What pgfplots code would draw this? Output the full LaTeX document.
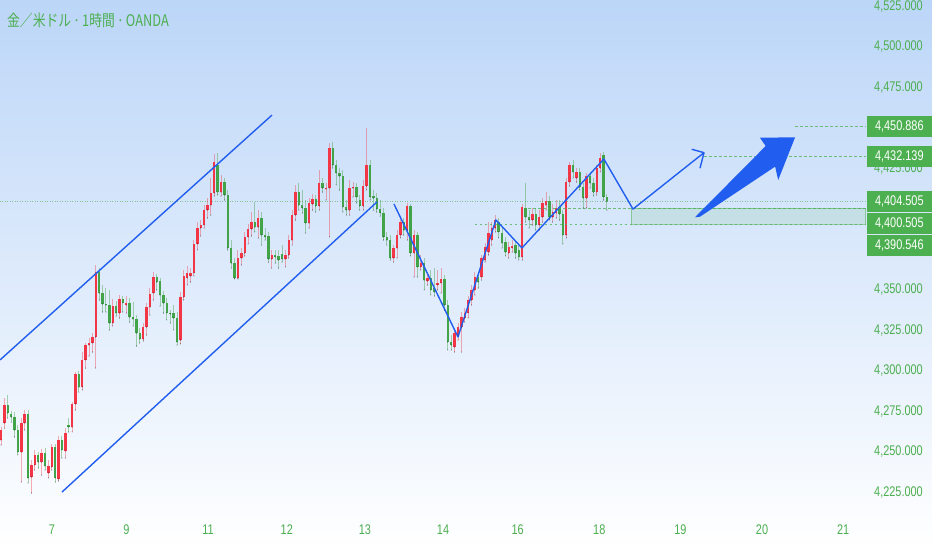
\documentclass[border=0pt]{standalone}
\usepackage{fontspec}
\setmainfont{Liberation Sans}[FakeStretch=0.78]
\newfontfamily\cjkfont{Noto Sans CJK JP}[FakeStretch=0.8]
\usepackage{pgfplots}
\usepackage{pgfplotstable}
\pgfplotsset{compat=1.18}
\definecolor{tvgreen}{RGB}{76,175,80}
\definecolor{upred}{RGB}{242,54,69}
\definecolor{dngreen}{RGB}{67,163,72}
\definecolor{tvblue}{RGB}{33,94,240}
\definecolor{bgtop}{RGB}{188,214,248}

\pgfplotstableread{
n o h l c
0 4257.3 4265.3 4254.2 4263.5
1 4267.8 4283.2 4264.7 4278.9
6 4249.9 4270.9 4231.4 4267.8
7 4267.8 4275.8 4263.5 4273.4
9 4234.5 4245.0 4224.6 4241.9
10 4241.9 4251.2 4238.8 4248.1
12 4243.7 4251.8 4235.7 4249.3
14 4237.0 4245.0 4233.9 4241.3
15 4240.7 4254.9 4238.8 4253.0
17 4233.3 4259.8 4232.0 4257.3
19 4250.5 4264.7 4246.2 4261.6
21 4265.3 4280.8 4262.3 4279.5
22 4279.5 4299.3 4275.8 4298.0
24 4290.0 4311.6 4288.2 4306.7
25 4306.7 4317.2 4301.7 4315.9
26 4315.9 4320.3 4309.2 4317.2
27 4317.2 4323.3 4311.6 4320.9
28 4320.9 4365.3 4301.7 4361.0
33 4329.5 4344.3 4327.7 4340.0
35 4335.7 4346.8 4332.6 4344.3
37 4340.6 4346.2 4335.7 4341.9
42 4319.6 4329.5 4318.4 4327.0
43 4327.0 4341.9 4322.1 4339.4
44 4339.4 4351.1 4334.4 4347.4
45 4348.0 4361.0 4343.7 4357.9
53 4319.0 4348.6 4316.6 4345.5
54 4345.5 4362.2 4343.7 4358.5
55 4357.3 4364.7 4353.0 4360.4
56 4358.5 4363.4 4354.8 4360.4
57 4360.4 4380.7 4358.5 4378.3
58 4378.3 4391.8 4374.6 4388.1
59 4388.1 4393.1 4383.2 4390.0
60 4390.0 4402.3 4388.1 4399.2
61 4399.2 4406.6 4394.3 4402.3
62 4402.3 4419.0 4396.1 4409.7
63 4409.7 4433.8 4407.9 4428.8
65 4410.3 4420.8 4407.9 4416.5
70 4357.3 4374.6 4356.7 4369.6
71 4369.6 4375.8 4365.3 4372.7
72 4372.7 4385.7 4370.9 4382.6
73 4382.6 4390.6 4378.3 4387.5
74 4387.5 4398.0 4383.2 4391.8
76 4388.7 4399.2 4382.0 4394.3
80 4369.0 4374.6 4363.4 4371.5
84 4369.0 4374.6 4364.1 4371.5
85 4371.5 4383.8 4369.6 4380.7
86 4380.7 4399.2 4377.6 4396.1
87 4396.1 4414.7 4393.1 4410.3
91 4391.2 4406.6 4388.1 4403.6
92 4402.9 4409.1 4399.2 4406.0
94 4401.7 4423.9 4399.2 4415.9
96 4412.2 4415.9 4405.4 4412.8
97 4412.8 4440.6 4382.6 4437.5
103 4399.2 4417.7 4396.1 4412.8
104 4412.8 4416.5 4407.3 4413.4
107 4401.7 4417.7 4399.2 4414.0
108 4414.0 4449.8 4411.6 4427.0
116 4369.6 4377.6 4367.1 4375.8
117 4375.8 4386.9 4369.6 4383.8
118 4383.8 4395.5 4382.0 4391.8
120 4386.9 4403.6 4380.7 4401.7
122 4372.7 4386.9 4357.9 4383.8
124 4364.1 4371.5 4362.2 4366.5
126 4355.4 4361.0 4353.0 4357.3
129 4353.0 4362.2 4349.9 4354.2
130 4354.2 4363.4 4348.0 4356.7
134 4314.7 4325.2 4311.6 4323.3
135 4322.1 4329.5 4319.0 4327.0
136 4327.0 4336.3 4311.6 4333.2
137 4332.6 4338.8 4330.1 4335.7
138 4335.7 4346.2 4332.6 4343.7
139 4343.7 4353.0 4340.6 4349.9
140 4349.9 4361.0 4346.8 4357.9
142 4357.9 4371.5 4356.0 4369.6
143 4368.4 4378.9 4367.1 4376.4
144 4373.3 4391.8 4371.5 4385.0
145 4380.7 4391.8 4377.6 4388.1
146 4388.1 4396.1 4385.7 4393.1
150 4372.7 4379.5 4369.6 4376.4
151 4375.8 4380.7 4373.3 4377.0
154 4370.2 4402.9 4368.4 4401.1
157 4393.1 4400.5 4390.0 4396.8
159 4390.0 4399.2 4386.9 4394.9
160 4394.9 4406.6 4391.8 4403.6
161 4402.3 4410.3 4399.2 4404.8
163 4394.9 4402.9 4391.8 4398.0
164 4397.4 4405.4 4394.3 4400.5
167 4383.8 4419.0 4382.0 4416.5
168 4416.5 4428.8 4414.0 4427.0
170 4419.0 4425.1 4416.5 4422.7
173 4406.6 4422.1 4400.5 4420.2
176 4410.3 4427.0 4408.5 4425.1
177 4425.1 4434.4 4422.7 4431.3
}\upcandles

\pgfplotstableread{
n o h l c
2 4278.9 4285.1 4270.9 4274.0
3 4273.4 4275.2 4268.4 4271.5
4 4271.5 4274.6 4259.2 4263.5
5 4263.5 4266.6 4248.1 4249.9
8 4273.4 4275.8 4230.8 4233.9
11 4248.1 4249.9 4240.0 4243.7
13 4249.3 4252.4 4238.8 4241.3
16 4253.0 4254.9 4231.4 4233.9
18 4257.3 4259.8 4246.2 4251.2
20 4266.6 4270.9 4262.3 4265.3
23 4298.0 4299.9 4286.9 4290.0
29 4361.0 4363.4 4343.7 4348.0
30 4348.0 4353.0 4336.3 4341.2
31 4341.2 4351.1 4336.3 4340.6
32 4340.6 4349.9 4325.2 4329.5
34 4340.0 4343.1 4333.8 4335.7
36 4344.3 4346.2 4336.3 4341.9
38 4341.9 4344.9 4330.1 4333.2
39 4333.2 4342.5 4327.7 4332.0
40 4332.0 4334.4 4315.3 4323.3
41 4323.3 4326.4 4317.2 4319.6
46 4357.9 4359.7 4349.9 4354.8
47 4355.4 4357.3 4340.0 4346.8
48 4346.8 4349.3 4335.7 4341.9
49 4341.9 4344.9 4331.4 4335.7
50 4335.7 4337.5 4329.5 4335.1
51 4335.7 4340.6 4325.2 4332.6
52 4332.6 4336.3 4315.9 4317.8
64 4427.0 4434.4 4408.5 4410.3
66 4416.5 4419.0 4405.4 4408.5
67 4408.5 4411.6 4374.6 4375.8
68 4375.8 4380.7 4363.4 4366.5
69 4366.5 4369.6 4356.7 4357.3
75 4391.8 4404.2 4385.7 4388.7
77 4394.3 4398.0 4377.6 4383.8
78 4383.8 4388.1 4380.7 4382.6
79 4383.2 4385.7 4367.1 4369.0
81 4371.5 4374.6 4366.5 4370.2
82 4370.9 4374.6 4363.4 4368.4
83 4372.1 4377.6 4367.1 4369.0
88 4410.3 4415.9 4399.2 4402.3
89 4402.3 4411.6 4397.4 4400.5
90 4400.5 4405.4 4385.0 4391.2
93 4406.0 4408.5 4398.0 4401.7
95 4415.9 4419.0 4410.3 4412.8
98 4437.5 4441.2 4425.1 4427.0
99 4427.0 4430.1 4414.7 4422.1
100 4422.1 4425.1 4411.6 4420.2
101 4420.2 4423.9 4398.0 4401.1
102 4401.1 4405.4 4396.1 4399.2
105 4413.4 4415.9 4403.6 4407.3
106 4405.4 4408.5 4399.2 4401.7
109 4427.0 4430.1 4405.4 4407.3
110 4407.9 4411.6 4399.2 4406.6
111 4406.6 4409.7 4398.0 4399.8
112 4399.8 4405.4 4395.5 4397.4
113 4397.4 4400.5 4380.7 4382.6
114 4382.6 4385.7 4377.6 4380.7
115 4380.7 4383.8 4368.4 4369.6
119 4391.8 4394.3 4383.8 4386.9
121 4401.7 4402.9 4370.9 4372.7
123 4383.8 4385.7 4357.9 4364.1
125 4366.5 4369.6 4349.9 4356.0
127 4357.3 4362.2 4346.8 4349.9
128 4351.1 4363.4 4346.2 4348.6
131 4356.7 4359.1 4337.5 4340.6
132 4340.6 4343.7 4312.9 4317.8
133 4317.8 4322.1 4312.9 4315.9
141 4357.9 4361.0 4351.1 4354.8
147 4391.8 4394.3 4382.0 4385.7
148 4385.0 4388.1 4375.8 4378.9
149 4379.5 4382.6 4370.9 4373.3
152 4377.6 4380.7 4369.6 4372.7
153 4374.6 4377.6 4368.4 4370.2
155 4400.5 4415.9 4391.8 4394.9
156 4394.9 4399.2 4388.1 4393.1
158 4396.8 4400.5 4386.9 4390.0
162 4404.8 4407.9 4393.1 4394.9
165 4401.1 4405.4 4393.1 4396.8
166 4396.8 4399.2 4378.3 4383.8
169 4427.0 4430.1 4419.0 4422.7
171 4422.7 4425.1 4411.6 4413.4
172 4413.4 4415.9 4400.5 4406.6
174 4420.2 4422.7 4412.8 4415.9
175 4415.9 4419.0 4407.9 4410.3
178 4433.2 4435.0 4405.4 4407.3
179 4407.3 4409.1 4399.2 4404.5
}\dncandles

\begin{document}
\begin{tikzpicture}
\begin{axis}[
  at={(0,0)}, anchor=south west,
  width=932bp, height=550bp, scale only axis,
  xmin=-0.295, xmax=275.04, ymin=4189.45, ymax=4528.8,
  set layers,
  axis line style={draw=none},
  major tick length=0pt,
  tick style={draw=none},
  ytick pos=right,
  xtick pos=bottom,
  ytick={4225,4250,4275,4300,4325,4350,4425,4475,4500,4525},
  yticklabels={{4,225.000},{4,250.000},{4,275.000},{4,300.000},{4,325.000},{4,350.000},{4,425.000},{4,475.000},{4,500.000},{4,525.000}},
  xtick={15.04,37.05,61.18,84.43,107.53,130.58,152.62,176.75,200.71,224.82,248.80},
  xticklabels={7,9,11,12,13,14,16,18,19,20,21},
  ticklabel style={font=\fontsize{14bp}{16bp}\selectfont, text=tvgreen},
  yticklabel style={anchor=east, inner sep=0pt, xshift=-9bp},
  xticklabel style={anchor=center, inner sep=0pt, yshift=20bp},
  axis background/.style={top color=bgtop, bottom color=white},
]
% current price dotted line
\draw[tvgreen, dash pattern=on 1bp off 1.5bp, line width=0.6bp, opacity=0.6] (axis cs:-0.3,4404.505) -- (axis cs:255.5,4404.505);

% wicks
\addplot[only marks, mark=*, mark size=0.1pt, mark options={draw=none, fill=none}, forget plot,
  error bars/.cd, y dir=plus, y explicit, error mark=none,
  error bar style={line width=0.9bp, color=upred, opacity=0.4}]
  table[x=n, y=l, y error expr=\thisrow{h}-\thisrow{l}] {\upcandles};
\addplot[only marks, mark=*, mark size=0.1pt, mark options={draw=none, fill=none}, forget plot,
  error bars/.cd, y dir=plus, y explicit, error mark=none,
  error bar style={line width=0.9bp, color=dngreen, opacity=0.45}]
  table[x=n, y=l, y error expr=\thisrow{h}-\thisrow{l}] {\dncandles};
% bodies
\addplot[only marks, mark=*, mark size=0.1pt, mark options={draw=none, fill=none}, forget plot,
  error bars/.cd, y dir=plus, y explicit, error mark=none,
  error bar style={line width=2.4bp, color=upred}]
  table[x=n, y=o, y error expr=\thisrow{c}-\thisrow{o}] {\upcandles};
\addplot[only marks, mark=*, mark size=0.1pt, mark options={draw=none, fill=none}, forget plot,
  error bars/.cd, y dir=plus, y explicit, error mark=none,
  error bar style={line width=2.4bp, color=dngreen}]
  table[x=n, y=c, y error expr=\thisrow{o}-\thisrow{c}] {\dncandles};

% zone rectangle and dashed levels
\filldraw[fill=tvgreen, fill opacity=0.12, draw=tvgreen, draw opacity=0.5, line width=0.8bp]
  (axis cs:186.1,4390.546) rectangle (axis cs:255.5,4400.505);
\draw[tvgreen, dash pattern=on 2.5bp off 2.5bp, line width=0.8bp, opacity=0.75] (axis cs:234.6,4450.886) -- (axis cs:255.5,4450.886);
\draw[tvgreen, dash pattern=on 2.5bp off 2.5bp, line width=0.8bp, opacity=0.75] (axis cs:207.7,4432.139) -- (axis cs:255.5,4432.139);
\draw[tvgreen, dash pattern=on 2.5bp off 2.5bp, line width=0.8bp, opacity=0.75] (axis cs:155.7,4400.505) -- (axis cs:255.5,4400.505);
\draw[tvgreen, dash pattern=on 2.5bp off 2.5bp, line width=0.8bp, opacity=0.75] (axis cs:140.0,4390.546) -- (axis cs:255.5,4390.546);

% channel lines
\draw[tvblue, line width=1.4bp] (axis cs:-0.295,4306.7) -- (axis cs:80.06,4457.8);
\draw[tvblue, line width=1.4bp] (axis cs:18.02,4225.2) -- (axis cs:111.08,4404.2);
% zigzag path
\draw[tvblue, line width=1.4bp, line join=round]
  (axis cs:116.1,4402.9) -- (axis cs:135.0,4320.9) -- (axis cs:146.2,4393.1)
  -- (axis cs:153.9,4375.8) -- (axis cs:178.1,4430.7) -- (axis cs:186.7,4399.8)
  -- (axis cs:207.68,4434.6);
\draw[tvblue, line width=1.4bp, line join=round]
  (axis cs:204.05,4436.7) -- (axis cs:207.68,4434.6) -- (axis cs:206.5,4425.0);
% big arrow
\fill[tvblue] (axis cs:205.0,4394.7) -- (axis cs:225.9,4438.7) -- (axis cs:224.2,4443.8)
  -- (axis cs:234.6,4444.1) -- (axis cs:229.6,4417.7) -- (axis cs:228.7,4426.0)
  -- (axis cs:206.5,4395.1) -- cycle;

% price labels
\tikzset{pricebox/.style={fill=tvgreen, text=white, inner sep=0pt, minimum width=65bp, anchor=east, font=\fontsize{14bp}{16bp}\selectfont}}
\node[pricebox, minimum height=21bp] at (axis cs:275.04,4450.886) {4,450.886};
\node[pricebox, minimum height=21bp] at (axis cs:275.04,4432.139) {4,432.139};
\node[pricebox, minimum height=21bp] at (axis cs:275.04,4404.505) {4,404.505};
\node[pricebox, minimum height=21bp] at (axis cs:275.04,4390.93) {4,400.505};
\node[pricebox, minimum height=21bp] at (axis cs:275.04,4377.36) {4,390.546};

% title
\node[anchor=west, inner sep=0pt, text=tvgreen, font=\cjkfont\fontsize{16bp}{18bp}\selectfont]
  at (rel axis cs:0.0075,0.9636) {金／米ドル\hspace{0.12em}·\hspace{0.12em}1時間\hspace{0.12em}·\hspace{0.12em}OANDA};
\end{axis}
\pgfresetboundingbox
\useasboundingbox (0,0) rectangle (932bp,550bp);
\end{tikzpicture}
\end{document}
